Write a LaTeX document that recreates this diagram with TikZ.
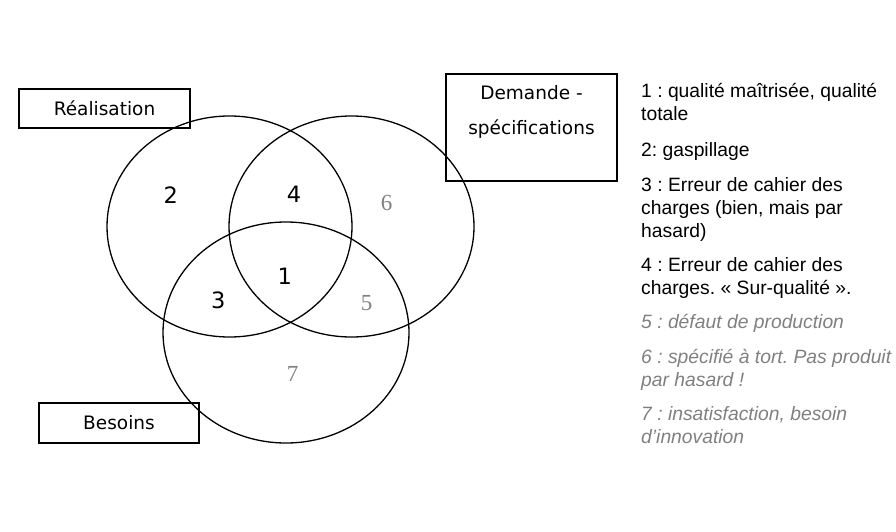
\documentclass[tikz,border=0pt]{standalone}
\usepackage{fontspec}
\newfontfamily\boxfont{DejaVu Sans}
\newfontfamily\legfont{Liberation Sans}
\newfontfamily\numfont{Liberation Serif}
\definecolor{fadegray}{RGB}{128,128,128}
\usetikzlibrary{positioning}

\begin{document}
\frenchspacing
\begin{tikzpicture}[x=1pt, y=-1pt,
        every node/.style={inner sep=0pt},
        set/.style={line width=1.3pt},
        tag/.style={draw, line width=1.3pt, align=center,
                    font=\boxfont\fontsize{18.5}{35}\selectfont},
        zone/.style={font=\boxfont\fontsize{22.5}{26}\selectfont},
        faded/.style={font=\numfont\fontsize{23}{26}\selectfont, text=fadegray},
        legend/.style={anchor=base west, align=left,
                       font=\legfont\fontsize{19.3}{23}\selectfont},
        legendfaded/.style={legend, text=fadegray,
                       font=\legfont\itshape\fontsize{19.3}{23}\selectfont}
    ]
    \useasboundingbox (0,0) rectangle (896,532);

    \coordinate (real) at (229.5,226.5);
    \coordinate (dem)  at (351.5,226.5);
    \coordinate (bes)  at (286,332.5);
    \draw[set] (real) ellipse [x radius=122.5, y radius=110.5];
    \draw[set] (dem)  ellipse [x radius=122.5, y radius=110.5];
    \draw[set] (bes)  ellipse [x radius=123, y radius=110.5];

    \node[tag, minimum width=171, minimum height=39] (realtag) at (104.5,108.5) {Réalisation};
    \node[tag, minimum width=171, minimum height=107] (demtag) at (531.5,127.5) {Demande -\\spécifications\\\mbox{}};
    \node[tag, minimum width=160, minimum height=40] (bestag) at (119,423) {Besoins};

    \node[zone] (z1) at (284.7,276.5) {1};
    \node[zone] (z2) at (170.7,195) {2};
    \node[zone] (z3) at (218.3,300) {3};
    \node[zone] (z4) at (294,194) {4};
    \node[faded] (z5) at (366.7,303.3) {5};
    \node[faded] (z6) at (386.7,202.7) {6};
    \node[faded] (z7) at (292.7,374) {7};

    % base anchor = baseline of the last line
    \node[legend] (leg1) at (641,121) {1 : qualité maîtrisée, qualité\\totale};
    \node[legend] (leg2) at (641,156) {2: gaspillage};
    \node[legend] (leg3) at (641,237) {3 : Erreur de cahier des\\charges (bien, mais par\\hasard)};
    \node[legend] (leg4) at (641,294) {4 : Erreur de cahier des\\charges. « Sur-qualité ».};
    \node[legendfaded] (leg5) at (641,328) {5 : défaut de production};
    \node[legendfaded] (leg6) at (641,386) {6 : spécifié à tort. Pas produit\\par hasard !};
    \node[legendfaded] (leg7) at (641,443) {7 : insatisfaction, besoin\\d’innovation};
\end{tikzpicture}
\end{document}
